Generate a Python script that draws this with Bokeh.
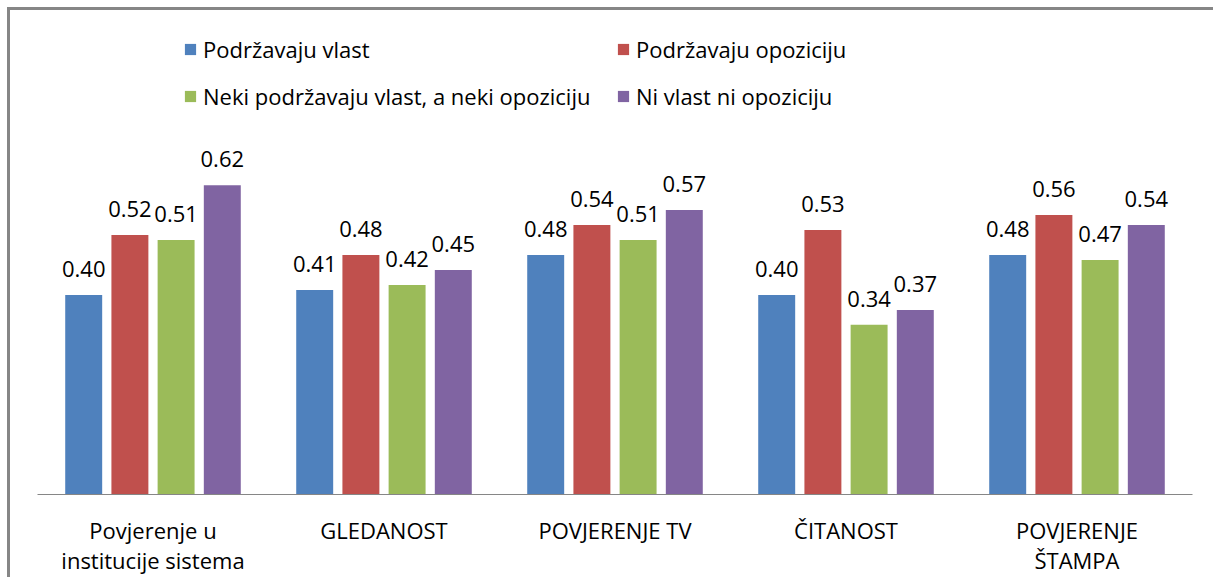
from bokeh.plotting import figure
from bokeh.models import ColumnDataSource, FactorRange, LabelSet, Legend, LegendItem, Spacer
from bokeh.layouts import column, row
from bokeh.transform import dodge
from bokeh.core.properties import value
from bokeh.embed import file_html
from bokeh.resources import INLINE

categories = ["Povjerenje u\ninstitucije sistema", "GLEDANOST", "POVJERENJE TV", "ČITANOST", "POVJERENJE\nŠTAMPA"]
series_names = ["Podržavaju vlast", "Podržavaju opoziciju", "Neki podržavaju vlast, a neki opoziciju", "Ni vlast ni opoziciju"]
vlast = [0.40, 0.41, 0.48, 0.40, 0.48]
opozicija = [0.52, 0.48, 0.54, 0.53, 0.56]
neki = [0.51, 0.42, 0.51, 0.34, 0.47]
ni = [0.62, 0.45, 0.57, 0.37, 0.54]
colors = ["#4F81BD", "#C0504D", "#9BBB59", "#8064A2"]

series = [vlast, opozicija, neki, ni]
offsets = [-0.3, -0.1, 0.1, 0.3]

FONT = "Open Sans"

p = figure(x_range=FactorRange(*categories, range_padding=0), y_range=(0, 0.95),
           width=1206, height=570, output_backend="svg", toolbar_location=None,
           min_border_left=27, min_border_right=24, min_border_top=10, min_border_bottom=86)
p.styles = {"border-top": "3px solid #868686", "border-left": "3px solid #868686"}
p.outline_line_color = None
p.xgrid.visible = False
p.ygrid.visible = False
p.yaxis.visible = False

ax = p.xaxis[0]
ax.axis_line_color = "#868686"
ax.axis_line_width = 1
ax.major_tick_line_color = None
ax.minor_tick_line_color = None
ax.major_label_text_font = FONT
ax.major_label_text_font_size = "22px"
ax.major_label_text_color = "#000000"
ax.major_label_text_line_height = 1.0
ax.major_label_standoff = 14

items = []
for name, vals, off, col in zip(series_names, series, offsets, colors):
    src = ColumnDataSource(dict(cat=categories, val=vals, lab=[f"{v:.2f}" for v in vals]))
    r = p.vbar(x=dodge("cat", off, range=p.x_range), top="val", width=0.16, source=src,
               fill_color=col, line_color=None)
    items.append(LegendItem(label=name, renderers=[r]))
    lbl = LabelSet(x=dodge("cat", off, range=p.x_range), y="val", text="lab", source=src,
                   y_offset=26, text_align="center", text_baseline="middle",
                   text_font=value(FONT), text_font_size=value("22px"), text_color="#000000")
    p.add_layout(lbl)

# Bokeh fills legend columns first: order items so rows read across
legend = Legend(items=[items[0], items[2], items[1], items[3]], ncols=2, location=(146, 383))
legend.background_fill_alpha = 0
legend.border_line_color = None
legend.padding = 0
legend.margin = 0
legend.spacing = 17
legend.glyph_width = 14
legend.glyph_height = 14
legend.label_standoff = 6
legend.label_width = 396
legend.label_height = 25
legend.label_text_font = FONT
legend.label_text_font_size = "22px"
legend.label_text_color = "#000000"
p.add_layout(legend, "center")

layout = column(Spacer(height=7), row(Spacer(width=7), p, spacing=0), spacing=0)

open("out.html", "w").write(file_html(layout, INLINE))
